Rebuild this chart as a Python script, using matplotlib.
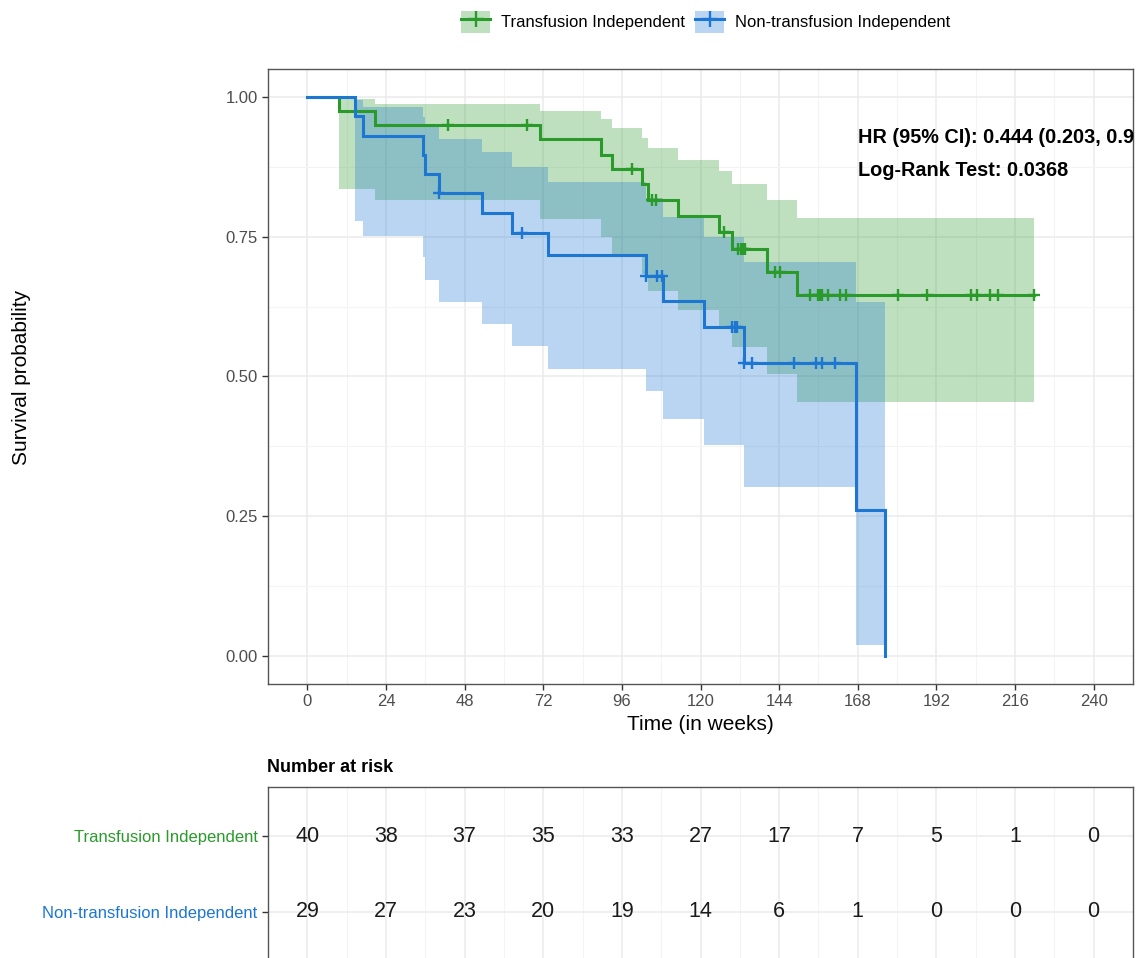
import numpy as np
import matplotlib
matplotlib.use("Agg")
import matplotlib.pyplot as plt
from matplotlib.patches import Patch
from matplotlib.lines import Line2D

plt.rcParams['font.family'] = ['Liberation Sans', 'DejaVu Sans']

# ---------------- data ----------------
group_names = ["Transfusion Independent", "Non-transfusion Independent"]
group_colors = ["#2A9A2A", "#1C76D2"]

# Transfusion Independent: step times, survival, CI
ti_time = [0, 9.6, 20.6, 71.0, 89.5, 93.0, 102.0, 104.0, 113.0, 125.7, 129.6, 140.4, 149.5, 221.8]
ti_surv = [1.0, 0.975, 0.950, 0.924, 0.897, 0.871, 0.844, 0.816, 0.787, 0.758, 0.728, 0.687, 0.645, 0.645]
ti_upper = [1.0, 0.996, 0.987, 0.975, 0.960, 0.944, 0.927, 0.908, 0.888, 0.867, 0.844, 0.816, 0.784, 0.784]
ti_lower = [1.0, 0.836, 0.815, 0.781, 0.749, 0.717, 0.684, 0.653, 0.619, 0.586, 0.552, 0.504, 0.455, 0.455]
ti_censor = [42.8, 67.0, 99.0, 105.3, 106.3, 127.2, 131.5, 132.3, 133.0, 133.6, 142.8, 144.4,
             153.5, 156.0, 156.6, 157.2, 159.0, 162.7, 164.3,
             180.3, 189.0, 202.6, 204.4, 208.4, 210.7, 221.8]

# Non-transfusion Independent
nti_time = [0, 14.5, 17.1, 35.2, 35.8, 40.3, 53.3, 62.4, 73.6, 103.3, 108.5, 121.0, 133.3, 167.6, 176.2]
nti_surv = [1.0, 0.966, 0.931, 0.897, 0.862, 0.828, 0.792, 0.756, 0.718, 0.680, 0.635, 0.589, 0.524, 0.262, 0.0]
nti_upper = [1.0, 0.995, 0.982, 0.965, 0.946, 0.924, 0.901, 0.875, 0.848, 0.819, 0.786, 0.750, 0.705, 0.633, 0.633]
nti_lower = [1.0, 0.779, 0.751, 0.713, 0.673, 0.634, 0.594, 0.554, 0.514, 0.474, 0.424, 0.378, 0.303, 0.020, 0.020]
nti_censor = [40.3, 65.5, 103.3, 106.8, 108.3, 129.6, 130.4, 131.2, 133.3, 135.8,
              148.5, 155.1, 157.2, 161.2]

risk_times = [0, 24, 48, 72, 96, 120, 144, 168, 192, 216, 240]
ti_risk = [40, 38, 37, 35, 33, 27, 17, 7, 5, 1, 0]
nti_risk = [29, 27, 23, 20, 19, 14, 6, 1, 0, 0, 0]

x_ticks = [0, 24, 48, 72, 96, 120, 144, 168, 192, 216, 240]
y_ticks = [0.0, 0.25, 0.50, 0.75, 1.00]
y_ticklabels = ["0.00", "0.25", "0.50", "0.75", "1.00"]

hr_text = "HR (95% CI): 0.444 (0.203, 0.9"
lr_text = "Log-Rank Test: 0.0368"

# ---------------- figure ----------------
W, H = 1137, 958
fig = plt.figure(figsize=(W / 100, H / 100), dpi=100)

def fx(px):
    return px / W

def fy(py):
    return 1 - py / H

L, R = 268, 1133
ax = fig.add_axes([fx(L), fy(684), (R - L) / W, (684 - 69) / H])
tab = fig.add_axes([fx(L), fy(961), (R - L) / W, (961 - 787) / H])

grid_col = "#EBEBEB"
tick_col = "#4D4D4D"

series = [
    (ti_time, ti_surv, ti_upper, ti_lower, ti_censor),
    (nti_time, nti_surv, nti_upper, nti_lower, nti_censor),
]

for (t, s, up, lo, cens), col in zip(series, group_colors):
    t = np.asarray(t); s = np.asarray(s)
    ax.fill_between(t, lo, up, step='post', color=col, alpha=0.3, linewidth=0, zorder=2)
for (t, s, up, lo, cens), col in zip(series, group_colors):
    t = np.asarray(t); s = np.asarray(s)
    ax.step(t, s, where='post', color=col, linewidth=2.2, zorder=3, solid_joinstyle='miter')
    c = np.asarray(cens)
    idx = np.searchsorted(t, c, side='right') - 1
    ax.plot(c, s[idx], linestyle='none', marker='+', markersize=9, markeredgewidth=1.7,
            color=col, zorder=4)

ax.set_xlim(-12, 252)
ax.set_ylim(-0.05, 1.05)
ax.set_xticks(x_ticks)
ax.set_xticks([v + 12 for v in x_ticks[:-1]], minor=True)
ax.set_yticks(y_ticks)
ax.set_yticklabels(y_ticklabels)
ax.set_yticks([0.125, 0.375, 0.625, 0.875], minor=True)
ax.grid(True, which='major', color=grid_col, linewidth=1.1, zorder=0)
ax.grid(True, which='minor', color="#F4F4F4", linewidth=0.8, zorder=0)
ax.set_axisbelow(True)
ax.tick_params(axis='both', which='major', colors="#333333", labelcolor=tick_col,
               labelsize=12, length=4, width=1)
ax.tick_params(axis='both', which='minor', length=0)
for sp in ax.spines.values():
    sp.set_color("#555555")
    sp.set_linewidth(1.0)

ax.text(168, 0.927, hr_text, fontsize=14.3, fontweight='bold', va='center', ha='left',
        color='black', clip_on=False)
ax.text(168, 0.869, lr_text, fontsize=14.3, fontweight='bold', va='center', ha='left',
        color='black')

fig.text(fx(700), fy(725), "Time (in weeks)", fontsize=15, ha='center', va='center', color='black')
fig.text(fx(22), fy(377), "Survival probability", fontsize=15, ha='center', va='center',
         rotation=90, color='black')

# legend
handles = []
for col in group_colors:
    handles.append((Patch(facecolor=col, alpha=0.3, edgecolor='none'),
                    Line2D([], [], color=col, linewidth=2.2, marker='+', markersize=11,
                           markeredgewidth=1.7)))
fig.legend(handles, group_names, loc='center', bbox_to_anchor=(fx(706), fy(22)), ncol=2,
           frameon=False, fontsize=12, handlelength=1.7, handleheight=1.7,
           columnspacing=0.6, handletextpad=0.7)

# ---------------- risk table ----------------
rows = [1, 0]
for r, risk in zip(rows, [ti_risk, nti_risk]):
    for tt, n in zip(risk_times, risk):
        tab.text(tt, r, str(n), ha='center', va='center', fontsize=15.5, color='#1A1A1A')
tab.set_xlim(-12, 252)
tab.set_ylim(-0.645, 1.645)
tab.set_xticks(x_ticks)
tab.set_xticks([v + 12 for v in x_ticks[:-1]], minor=True)
tab.set_yticks(rows)
tab.set_yticklabels(group_names)
tab.grid(True, which='major', color=grid_col, linewidth=1.1, zorder=0)
tab.grid(True, which='minor', axis='x', color="#F4F4F4", linewidth=0.8, zorder=0)
tab.tick_params(axis='x', which='both', length=0, labelbottom=False)
tab.tick_params(axis='y', which='major', length=4, width=1, colors="#333333", labelsize=12)
for lab, col in zip(tab.get_yticklabels(), group_colors):
    lab.set_color(col)
for sp in tab.spines.values():
    sp.set_color("#555555")
    sp.set_linewidth(1.0)

fig.text(fx(267), fy(767), "Number at risk", fontsize=13, fontweight='bold', ha='left',
         va='center', color='black')

fig.savefig("out.png", dpi=100)
